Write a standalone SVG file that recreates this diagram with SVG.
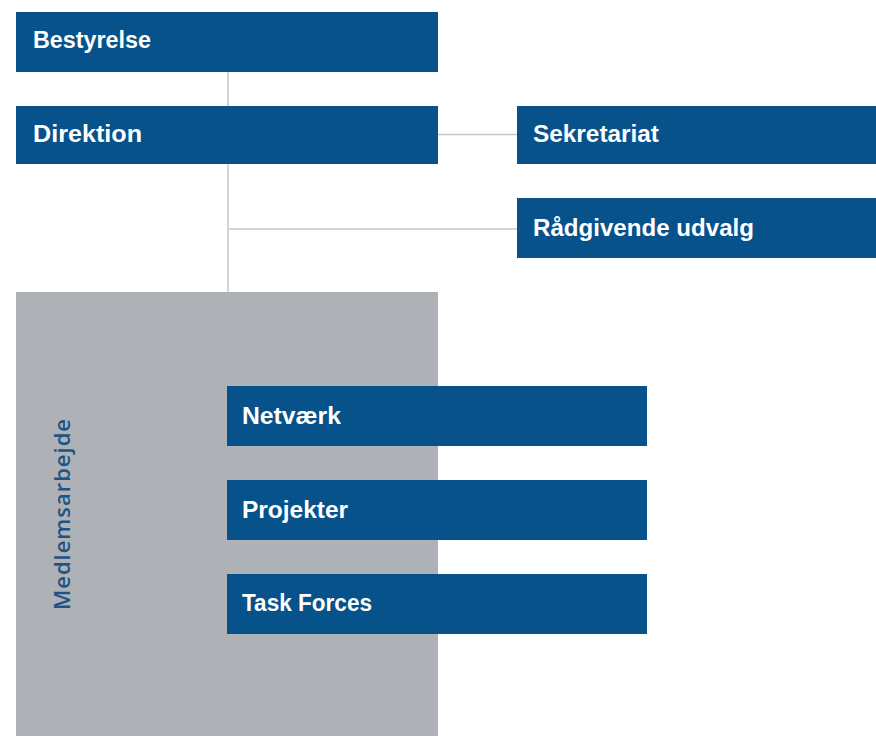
<svg xmlns="http://www.w3.org/2000/svg" width="876" height="736" viewBox="0 0 876 736">
<style>
.box{fill:#07528a}
.lbl{font-family:"Liberation Sans",Arial,sans-serif;font-weight:bold;font-size:23px;fill:#ffffff}
.conn{stroke:#c8c8c8;stroke-width:1.5;fill:none}
.side{font-family:"Open Sans","Liberation Sans",sans-serif;font-weight:600;font-size:22px;fill:#1e5485}
</style>
<rect width="876" height="736" fill="#ffffff"/>
<g id="connectors">
<line class="conn" x1="228" y1="72" x2="228" y2="106"/>
<line class="conn" x1="228" y1="164" x2="228" y2="292"/>
<line class="conn" x1="438" y1="134.5" x2="517" y2="134.5"/>
<line class="conn" x1="228" y1="229" x2="517" y2="229"/>
</g>
<g id="medlemsarbejde">
<rect x="16" y="292" width="422" height="444" fill="#aeb2b7"/>
<text class="side" transform="translate(69.5,610) rotate(-90)" textLength="191" lengthAdjust="spacing">Medlemsarbejde</text>
</g>
<g id="bestyrelse">
<rect class="box" x="16" y="12" width="422" height="60"/>
<text class="lbl" x="33" y="47.5" textLength="118" lengthAdjust="spacingAndGlyphs">Bestyrelse</text>
</g>
<g id="direktion">
<rect class="box" x="16" y="106" width="422" height="58"/>
<text class="lbl" x="33" y="142" textLength="109" lengthAdjust="spacingAndGlyphs">Direktion</text>
</g>
<g id="sekretariat">
<rect class="box" x="517" y="106" width="359" height="58"/>
<text class="lbl" x="533" y="142" textLength="126" lengthAdjust="spacingAndGlyphs">Sekretariat</text>
</g>
<g id="raadgivende">
<rect class="box" x="517" y="198" width="359" height="60"/>
<text class="lbl" x="533" y="236" textLength="221" lengthAdjust="spacingAndGlyphs">Rådgivende udvalg</text>
</g>
<g id="netvaerk">
<rect class="box" x="227" y="386" width="420" height="60"/>
<text class="lbl" x="242" y="423.5" textLength="99" lengthAdjust="spacingAndGlyphs">Netværk</text>
</g>
<g id="projekter">
<rect class="box" x="227" y="480" width="420" height="60"/>
<text class="lbl" x="242" y="517.5" textLength="106" lengthAdjust="spacingAndGlyphs">Projekter</text>
</g>
<g id="taskforces">
<rect class="box" x="227" y="574" width="420" height="60"/>
<text class="lbl" x="242" y="611" textLength="130" lengthAdjust="spacingAndGlyphs">Task Forces</text>
</g>
</svg>
